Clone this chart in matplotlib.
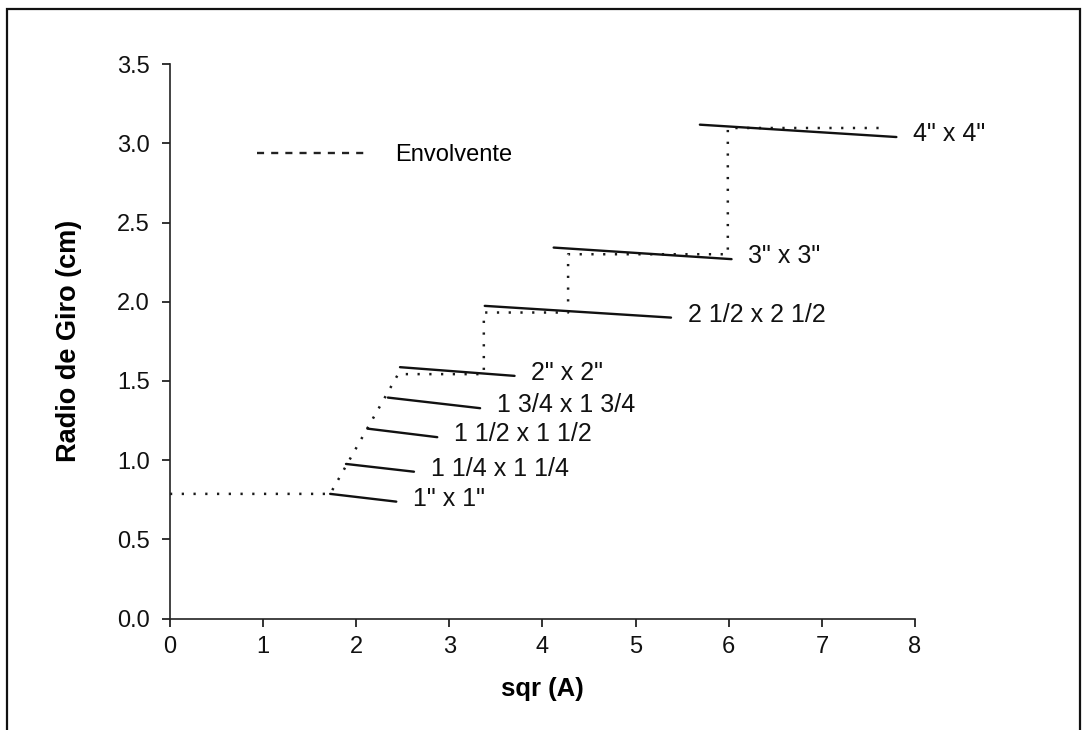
import matplotlib
matplotlib.use("Agg")
import matplotlib.pyplot as plt
from matplotlib.lines import Line2D
from matplotlib.patches import Rectangle

plt.rcParams['font.family'] = ['Liberation Sans', 'DejaVu Sans']

# ---- data ----
sizes = ['1" x 1"', '1 1/4 x 1 1/4', '1 1/2 x 1 1/2', '1 3/4 x 1 3/4',
         '2" x 2"', '2 1/2 x 2 1/2', '3" x 3"', '4" x 4"']
x_start = [1.72, 1.89, 2.12, 2.34, 2.47, 3.38, 4.12, 5.69]
x_end = [2.43, 2.62, 2.87, 3.33, 3.70, 5.38, 6.03, 7.80]
r_start = [0.787, 0.976, 1.199, 1.395, 1.587, 1.974, 2.342, 3.118]
r_end = [0.738, 0.927, 1.145, 1.328, 1.532, 1.900, 2.269, 3.040]

env_x = [0.0, 1.72, 2.45, 3.37, 3.37, 4.275, 4.275, 5.99, 5.99, 7.67]
env_y = [0.787, 0.787, 1.543, 1.543, 1.932, 1.932, 2.30, 2.30, 3.097, 3.097]

x_ticks = [0, 1, 2, 3, 4, 5, 6, 7, 8]
y_ticks = [0.0, 0.5, 1.0, 1.5, 2.0, 2.5, 3.0, 3.5]

fig = plt.figure(figsize=(10.84, 7.30), dpi=100)
ax = fig.add_axes([0.1568, 0.1527, 0.6873, 0.7594])

# envelope (dotted)
ax.plot(env_x, env_y, color='#1a1a1a', lw=1.8, linestyle=(0, (0.9, 3.8)),
        solid_capstyle='butt')

# sections
for xs, xe, rs, re, name in zip(x_start, x_end, r_start, r_end, sizes):
    ax.plot([xs, xe], [rs, re], color='#111111', lw=1.7, solid_capstyle='round')
    ax.annotate(name, xy=(xe, re), xytext=(12, 2), textcoords='offset points',
                ha='left', va='center', fontsize=18, color='#111111')

# legend
proxy = Line2D([0], [0], color='#222222', lw=1.7, linestyle=(0, (3.0, 3.0)))
ax.legend([proxy], ['Envolvente'], loc='center left',
          bbox_to_anchor=(0.1168, 0.836), frameon=False, fontsize=17,
          handlelength=4.79, handletextpad=1.06, borderpad=0, borderaxespad=0)

ax.set_xlim(0, 8)
ax.set_ylim(0, 3.5)
ax.set_xticks(x_ticks)
ax.set_yticks(y_ticks)
ax.set_yticklabels([f"{v:.1f}" for v in y_ticks])
for s in ['top', 'right']:
    ax.spines[s].set_visible(False)
for s in ['left', 'bottom']:
    ax.spines[s].set_linewidth(1.2)
    ax.spines[s].set_color('#222222')
ax.tick_params(axis='both', direction='out', length=5.5, width=1.2,
               labelsize=17, colors='#111111')
ax.tick_params(axis='y', pad=9)
ax.tick_params(axis='x', pad=7)

ax.set_xlabel('sqr (A)', fontsize=18.5, fontweight='bold', labelpad=14)
ax.set_ylabel('Radio de Giro (cm)', fontsize=19.5, fontweight='bold', labelpad=25)

# page frame of the scanned figure
fig.patches.append(Rectangle((7 / 1084, -0.1), (1080 - 7) / 1084, (730 - 9) / 730 + 0.1,
                             transform=fig.transFigure, fill=False,
                             lw=1.6, edgecolor='#111111'))

fig.savefig('out.png', dpi=100)
